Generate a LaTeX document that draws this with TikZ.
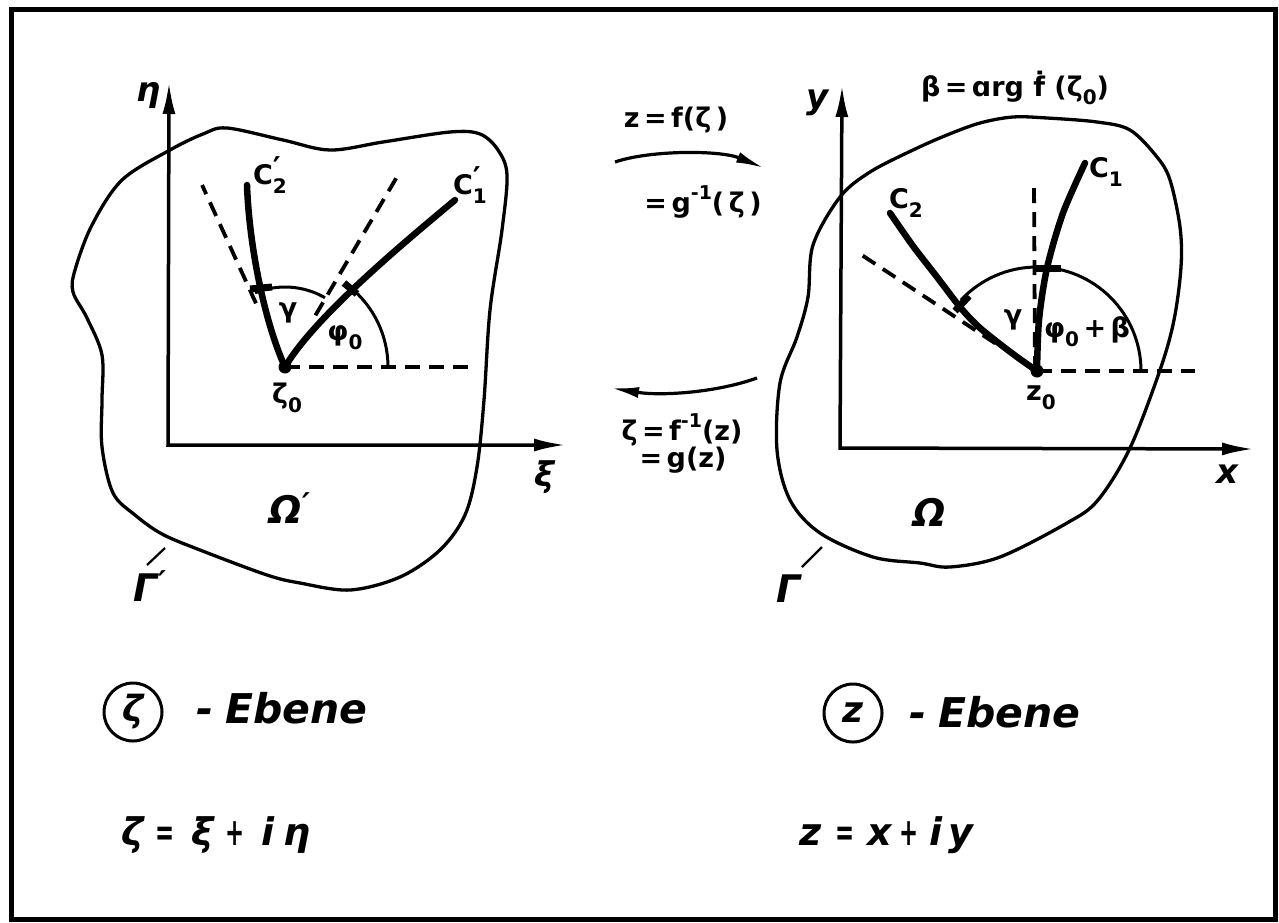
\documentclass[tikz,border=0pt]{standalone}
\usepackage{fontspec}
\setmainfont{DejaVu Sans}
\usetikzlibrary{arrows.meta,calc}
\newcommand\dn[1]{\raisebox{-0.32em}{\fontsize{20}{20}\selectfont #1}}
\newcommand\up[1]{\raisebox{0.5em}{\fontsize{19}{19}\selectfont #1}}
\newcommand\pr{\raisebox{0.25em}{\fontsize{30}{30}\selectfont ′}}
\newcommand\nar[1]{\scalebox{0.6}[1]{#1}}
\begin{document}
\begin{tikzpicture}[x=1pt,y=1pt,yscale=-1,
  frame/.style={line width=5pt},
  bnd/.style={line width=3.3pt,line join=round},
  ax/.style={line width=3.5pt,{Latex[length=32pt,width=13pt]}-{Latex[length=32pt,width=13pt]}},
  cc/.style={line width=6.5pt,line cap=round},
  dsh/.style={line width=3.8pt,dash pattern=on 15pt off 9pt},
  arcl/.style={line width=3pt},
  xmark/.style={line width=7pt},
  marr/.style={line width=3.2pt,-{Latex[length=28pt,width=11pt]}},
  tickl/.style={line width=2.2pt},
  lbl/.style={font=\bfseries\fontsize{27}{27}\selectfont,inner sep=0pt},
  axl/.style={font=\bfseries\itshape\fontsize{34}{34}\selectfont,inner sep=0pt},
  big/.style={font=\bfseries\itshape\fontsize{38}{38}\selectfont,inner sep=0pt},
  form/.style={font=\bfseries\itshape\fontsize{38}{38}\selectfont,inner sep=0pt,anchor=base},
  ebene/.style={font=\bfseries\itshape\fontsize{41}{41}\selectfont,inner sep=0pt,anchor=base west},
  circ/.style={circle,draw,line width=3pt,minimum size=58pt,inner sep=0pt,font=\bfseries\itshape\fontsize{36}{36}\selectfont}
]
\useasboundingbox (0,0) rectangle (1279,922);
\draw[frame] (11,9) rectangle (1275,919);

% ---------------- left plane ----------------
\coordinate (p0) at (285,367);
\coordinate (lo) at (168,445);
\coordinate (leta) at (169,82);
\coordinate (lxi) at (566,445);
\draw[bnd] plot[smooth cycle,tension=0.55] coordinates {
 (170,150) (203,134) (227,128) (283,140) (330,150) (383,142) (450,132) (480,134)
 (498,150) (507,175) (502,230) (490,310) (484,400) (477,467) (465,515) (440,550)
 (400,577) (350,590) (300,583) (267,575) (200,550) (162,534) (135,515) (113,493)
 (102,447) (102,400) (102,355) (87,318) (73,292) (75,270) (92,225) (122,180)};
\draw[ax] (leta) -- (lo) -- (lxi);
\draw[dsh] (p0) -- (470,367);
\draw[dsh] ($(p0)+(-59.5:60)$) -- ($(p0)+(-59.5:222)$);
\draw[dsh] ($(p0)+(-114.5:70)$) -- ($(p0)+(-114.5:200)$);
\draw[arcl] ($(p0)+(0:103)$) arc[start angle=0,end angle=-51,radius=103];
\draw[arcl] ($(p0)+(-60:80)$) arc[start angle=-60,end angle=-112,radius=80];
\draw[cc] (p0) .. controls (315.5,315.3) and (409,238.6) .. (455,200);
\draw[cc] (p0) .. controls (264.3,321.5) and (249.1,245) .. (247,185);
\draw[xmark] (344,283) -- (357,294);
\draw[xmark] (250,289) -- (272,287);
\fill (p0) circle[radius=6.5];
\node[axl] (eta) at (149,96) {η};
\node[axl] (xi) at (545,477) {ξ};
\node[lbl] (c2p) at (270,175) {C\rlap{\pr}\dn{2}};
\node[lbl] (c1p) at (470,185) {C\rlap{\pr}\dn{1}};
\node[lbl] (gl) at (288,313) {γ};
\node[lbl] (phl) at (345,338) {φ\dn{0}};
\node[lbl] (z0l) at (287,398) {ζ\dn{0}};
\node[big] (om1) at (290,508) {Ω\pr};
\node[big] (ga1) at (150,586) {Γ\pr};
\coordinate (g1a) at (165,548);
\coordinate (g1b) at (147,565);
\draw[tickl] (g1a) -- (g1b);

% ---------------- middle ----------------
\coordinate (ta) at (615,162);
\coordinate (tb) at (764,168);
\draw[marr] (ta) .. controls (650,150) and (720,150) .. (tb);
\coordinate (ba) at (757,378);
\coordinate (bb) at (611,388);
\draw[marr] (ba) .. controls (715,393) and (660,396) .. (bb);
\node[lbl] (f1) at (676,120) {z\,=\,f(ζ\,)};
\node[lbl] (f2) at (703,202) {=\,g\up{-1}(\,ζ\,)};
\node[lbl] (f3) at (682,430) {ζ\,=\,f\up{-1}(z)};
\node[lbl] (f4) at (683,460) {=\,g(z)};

% ---------------- right plane ----------------
\coordinate (q0) at (1037,371);
\coordinate (ro) at (840,448);
\coordinate (ry) at (842,85);
\coordinate (rx) at (1254,449);
\draw[bnd] plot[smooth cycle,tension=0.55] coordinates {
 (840,197) (870,172) (913,150) (947,135) (980,123) (1013,117) (1047,118) (1097,122)
 (1130,130) (1157,157) (1170,180) (1180,227) (1181,267) (1174,320) (1160,370)
 (1130,448) (1098,500) (1067,523) (1000,557) (950,567) (920,563) (873,557)
 (820,533) (790,500) (777,450) (780,383) (797,337) (808,297) (813,245)};
\draw[ax] (ry) -- (ro) -- (rx);
\draw[dsh] (q0) -- (1195,371);
\draw[dsh] (1035,371) -- (1034,183);
\draw[dsh] ($(q0)+(-146.5:50)$) -- ($(q0)+(-146.5:212)$);
\draw[arcl] ($(q0)+(0:104)$) arc[start angle=0,end angle=-137,radius=104];
\draw[cc] plot[smooth] coordinates {(1037,371) (1039,320) (1047,268) (1063,213) (1085,163)};
\draw[cc] plot[smooth] coordinates {(1037,371) (1013,354) (980,328) (960,307) (937,277) (913,246) (890,213)};
\draw[xmark] (1036,268) -- (1061,268);
\draw[xmark] (955,311) -- (969,296);
\fill (q0) circle[radius=6.5];
\node[axl] (yl) at (818,103) {y};
\node[axl] (xl) at (1227,474) {x};
\node[lbl] (beta) at (1015,88) {β\,=\,ɑrg ḟ (ζ\dn{0})};
\node[lbl] (c2) at (906,203) {C\dn{2}};
\node[lbl] (c1) at (1106,172) {C\dn{1}};
\node[lbl] (gr) at (1013,320) {γ};
\node[lbl] (phr) at (1087,332) {φ\dn{0}\,+\,β};
\node[lbl] (z0r) at (1041,398) {z\dn{0}};
\node[big] (om2) at (930,512) {Ω};
\node[big] (ga2) at (789,589) {Γ};
\coordinate (g2a) at (822,547);
\coordinate (g2b) at (802,567);
\draw[tickl] (g2a) -- (g2b);

% ---------------- bottom ----------------
\node[circ] (cz) at (133,712) {ζ};
\node[ebene] (d1) at (196,723) {-};
\node[ebene] (e1) at (225,723) {Ebene};
\node[circ] (cw) at (853,713) {z};
\node[ebene] (d2) at (909,727) {-};
\node[ebene] (e2) at (938,727) {Ebene};

\node[form] (l1) at (133,845) {ζ};
\node[form] (l2) at (165,845) {\nar{=}};
\node[form] (l3) at (203,845) {ξ};
\node[form] (l4) at (235,845) {\nar{+}};
\node[form] (l5) at (268,845) {i};
\node[form] (l6) at (297,845) {η};

\node[form] (r1) at (811,845) {z};
\node[form] (r2) at (845,845) {\nar{=}};
\node[form] (r3) at (880,845) {x};
\node[form] (r4) at (909,845) {\nar{+}};
\node[form] (r5) at (936,845) {i};
\node[form] (r6) at (961,845) {y};
\end{tikzpicture}
\end{document}
